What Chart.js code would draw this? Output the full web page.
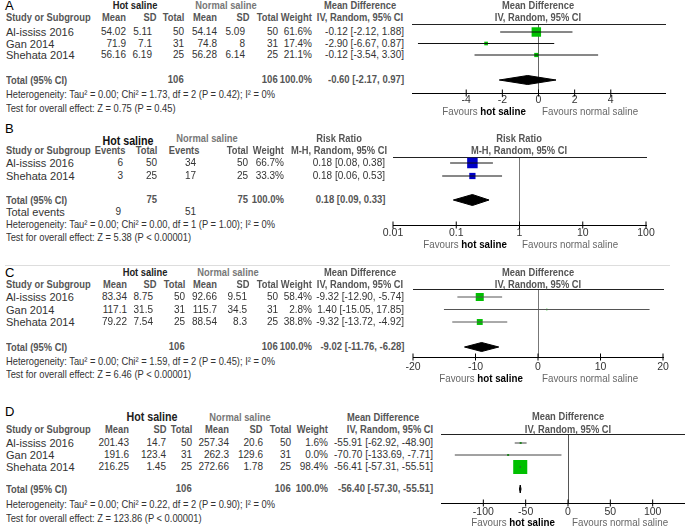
<!DOCTYPE html>
<html><head><meta charset="utf-8">
<script src="https://cdn.jsdelivr.net/npm/chart.js@4/dist/chart.umd.min.js"></script>
<style>
html,body{margin:0;padding:0;background:#fff;overflow:hidden;width:685px;height:527px;}
#root{position:relative;width:685px;height:527px;overflow:hidden;font-family:"Liberation Sans",Arial,sans-serif;}
.t{position:absolute;white-space:nowrap;font-size:10.5px;line-height:12px;color:#333;}
.b{font-weight:bold;color:#555;}
.hot{font-weight:bold;color:#222;}
.nor{font-weight:bold;color:#777;}
.let{font-size:13px;color:#000;}
.nm{font-size:11px;}
.num{font-size:10px;}
.fav{color:#666;}
.favb{color:#000;font-weight:bold;}
canvas{position:absolute;}
.hl{position:absolute;height:1px;background:#ddd;}
</style></head><body><div id="root"></div>
<script>
// ---------------- DATA ----------------
const studies3 = ['Al-ississ 2016', 'Gan 2014', 'Shehata 2014'];
const studies2 = ['Al-ississ 2016', 'Shehata 2014'];

// Panel A
const aHotMean = ['54.02', '71.9', '56.16'];
const aHotSD = ['5.11', '7.1', '6.19'];
const aHotN = ['50', '31', '25'];
const aNorMean = ['54.14', '74.8', '56.28'];
const aNorSD = ['5.09', '8', '6.14'];
const aNorN = ['50', '31', '25'];
const aWeight = [61.6, 17.4, 21.1];
const aMD = [-0.12, -2.90, -0.12];
const aLo = [-2.12, -6.67, -3.54];
const aHi = [1.88, 0.87, 3.30];
const aTotal = [-0.60, -2.17, 0.97];
const aTotN = ['106', '106'];
const aHet = 'Heterogeneity: Tau² = 0.00; Chi² = 1.73, df = 2 (P = 0.42); I² = 0%';
const aTest = 'Test for overall effect: Z = 0.75 (P = 0.45)';
const aTicks = [-4, -2, 0, 2, 4];

// Panel B
const bHotEv = ['6', '3'];
const bHotN = ['50', '25'];
const bNorEv = ['34', '17'];
const bNorN = ['50', '25'];
const bWeight = [66.7, 33.3];
const bRR = [0.18, 0.18];
const bLo = [0.08, 0.06];
const bHi = [0.38, 0.53];
const bTotal = [0.18, 0.09, 0.33];
const bTotN = ['75', '75'];
const bTotEv = ['9', '51'];
const bHet = 'Heterogeneity: Tau² = 0.00; Chi² = 0.00, df = 1 (P = 1.00); I² = 0%';
const bTest = 'Test for overall effect: Z = 5.38 (P < 0.00001)';
const bTicks = [0.01, 0.1, 1, 10, 100];

// Panel C
const cHotMean = ['83.34', '117.1', '79.22'];
const cHotSD = ['8.75', '31.5', '7.54'];
const cHotN = ['50', '31', '25'];
const cNorMean = ['92.66', '115.7', '88.54'];
const cNorSD = ['9.51', '34.5', '8.3'];
const cNorN = ['50', '31', '25'];
const cWeight = [58.4, 2.8, 38.8];
const cMD = [-9.32, 1.40, -9.32];
const cLo = [-12.90, -15.05, -13.72];
const cHi = [-5.74, 17.85, -4.92];
const cTotal = [-9.02, -11.76, -6.28];
const cTotN = ['106', '106'];
const cHet = 'Heterogeneity: Tau² = 0.00; Chi² = 1.59, df = 2 (P = 0.45); I² = 0%';
const cTest = 'Test for overall effect: Z = 6.46 (P < 0.00001)';
const cTicks = [-20, -10, 0, 10, 20];

// Panel D
const dHotMean = ['201.43', '191.6', '216.25'];
const dHotSD = ['14.7', '123.4', '1.45'];
const dHotN = ['50', '31', '25'];
const dNorMean = ['257.34', '262.3', '272.66'];
const dNorSD = ['20.6', '129.6', '1.78'];
const dNorN = ['50', '31', '25'];
const dWeight = [1.6, 0.0, 98.4];
const dMD = [-55.91, -70.70, -56.41];
const dLo = [-62.92, -133.69, -57.31];
const dHi = [-48.90, -7.71, -55.51];
const dTotal = [-56.40, -57.30, -55.51];
const dTotN = ['106', '106'];
const dHet = 'Heterogeneity: Tau² = 0.00; Chi² = 0.22, df = 2 (P = 0.90); I² = 0%';
const dTest = 'Test for overall effect: Z = 123.86 (P < 0.00001)';
const dTicks = [-100, -50, 0, 50, 100];

// ---------------- HELPERS ----------------
const root = document.getElementById('root');
const SX = 0.89;
function txt(x, y, s, a, cls, extra, sx) {
  const k = sx || SX;
  const d = document.createElement('div');
  d.className = 't' + (cls ? ' ' + cls : '');
  d.textContent = s;
  if (a === 'r') { d.style.right = (685 - x) + 'px'; d.style.transformOrigin = '100% 50%'; d.style.transform = 'scaleX(' + k + ')'; }
  else if (a === 'c') { d.style.left = x + 'px'; d.style.transformOrigin = '0 50%'; d.style.transform = 'scaleX(' + k + ') translateX(-50%)'; }
  else { d.style.left = x + 'px'; d.style.transformOrigin = '0 50%'; d.style.transform = 'scaleX(' + k + ')'; }
  d.style.top = (y - 6) + 'px';
  if (extra) Object.assign(d.style, extra);
  root.appendChild(d);
  return d;
}
const name = (x, y, s) => txt(x, y, s, 'l', 'nm', null, 1);
const num = (x, y, s, bold) => txt(x, y, s, 'r', 'num' + (bold ? ' b' : ''), null, bold ? 0.95 : 1);
const fmt2 = v => v.toFixed(2);
const fmtCI = (m, l, h) => fmt2(m) + ' [' + fmt2(l) + ', ' + fmt2(h) + ']';
const fmtW = w => w.toFixed(1) + '%';

function forest(L, D) {
  const cv = document.createElement('canvas');
  cv.width = L.cW; cv.height = L.cH;
  cv.style.left = L.cLeft + 'px'; cv.style.top = L.cTop + 'px';
  root.appendChild(cv);
  const tIdx = (L.totalY - L.row0) / L.rowH;
  const dh = L.dH / L.rowH;
  const yMin = (L.top - L.row0) / L.rowH, yMax = (L.axis - L.row0) / L.rowH;
  const ds = [];
  D.est.forEach((m, i) => {
    ds.push({ data: [{ x: D.lo[i], y: i }, { x: D.hi[i], y: i }], borderColor: L.ciColor, borderWidth: 1, pointRadius: 0, fill: false });
  });
  ds.push({ data: D.est.map((m, i) => ({ x: m, y: i })), showLine: false, pointStyle: 'rect',
    pointRadius: D.w.map(w => Math.max(L.minSide, L.k * Math.pow(w, 0.75)) / Math.SQRT2),
    pointBackgroundColor: L.sq, pointBorderWidth: 0, pointBorderColor: L.sq });
  const T = D.tot;
  ds.push({ data: [{ x: T[1], y: tIdx }, { x: T[0], y: tIdx - dh }, { x: T[2], y: tIdx }, { x: T[0], y: tIdx + dh }, { x: T[1], y: tIdx }],
    borderColor: '#000', borderWidth: 1, backgroundColor: '#000', fill: 'shape', pointRadius: 0 });
  // tick marks crossing the axis line, placed at the tick values through the scales
  ds.push({ data: D.ticks.map(v => ({ x: v, y: yMax })), showLine: false, pointStyle: 'line', rotation: 90,
    pointRadius: 3.5, pointBorderColor: '#000', pointBorderWidth: 1, clip: false });
  const tickFont = { family: 'Liberation Sans', size: 10.5 };
  new Chart(cv, {
    type: 'line',
    data: { datasets: ds },
    options: {
      responsive: false, animation: false, events: [],
      layout: { padding: { left: L.plotL - L.cLeft, right: L.cLeft + L.cW - L.plotR, top: L.top - L.cTop, bottom: L.cTop + L.cH - L.axis - 16 } },
      plugins: { legend: { display: false }, tooltip: { enabled: false } },
      scales: {
        x: { type: L.type, position: 'bottom', min: L.min, max: L.max,
          afterBuildTicks: s => { s.ticks = D.ticks.map(v => ({ value: v })); },
          afterFit: s => { s.height = 16; },
          grid: { drawOnChartArea: false, drawTicks: false },
          border: { display: true, color: '#000', width: 1 },
          ticks: { autoSkip: false, maxRotation: 0, minRotation: 0, padding: L.lblPad, color: '#333', font: tickFont, callback: v => String(v) } },
        x2: { type: L.type, position: 'top', min: L.min, max: L.max,
          afterBuildTicks: s => { s.ticks = [{ value: L.ref }]; },
          afterFit: s => { s.height = 0; },
          grid: { drawOnChartArea: true, drawTicks: false, color: L.refColor, lineWidth: 1 },
          border: { display: true, color: '#222', width: 1 },
          ticks: { display: false } },
        y: { type: 'linear', display: false, reverse: true, min: yMin, max: yMax }
      }
    }
  });
  const xc = L.refPx;
  txt(xc, L.grpY, L.title, 'c', 'b');
  txt(xc, L.hdrY, L.sub, 'c', 'b');
  const f = document.createElement('div');
  f.className = 't';
  f.style.right = (685 - (xc - L.favGapL)) + 'px';
  f.style.top = (L.favY - 6) + 'px';
  f.style.transformOrigin = '100% 50%';
  f.style.transform = 'scaleX(0.93)';
  f.innerHTML = '<span class="fav">Favours </span><span class="favb">hot saline</span>';
  root.appendChild(f);
  txt(xc + L.favGapR, L.favY, 'Favours normal saline', 'l', 'fav', null, 0.93);
}

function contTable(T, S) {
  txt(5, T.letterY, T.letter, 'l', 'let', null, 1);
  txt(T.hotC, T.grpY, 'Hot saline', 'c', 'hot', T.hotSize ? { fontSize: T.hotSize } : null);
  txt(T.norC, T.grpY, 'Normal saline', 'c', 'nor');
  txt(T.mdC, T.grpY, 'Mean Difference', 'c', 'b');
  txt(6, T.hdrY, 'Study or Subgroup', 'l', 'b');
  ['Mean', 'SD', 'Total', 'Mean', 'SD', 'Total', 'Weight'].forEach((h, i) => txt(T.hdrX[i], T.hdrY, h, 'r', 'b'));
  txt(T.ivC, T.hdrY, 'IV, Random, 95% CI', 'c', 'b');
  S.names.forEach((n, i) => {
    const y = T.row0 + i * T.rowH;
    name(6, y, n);
    const vals = [S.hm[i], S.hs[i], S.hn[i], S.nm[i], S.ns[i], S.nn[i], fmtW(S.w[i])];
    vals.forEach((v, j) => num(T.colX[j], y, v));
    num(T.ciR, y, fmtCI(S.est[i], S.lo[i], S.hi[i]));
  });
  txt(6, T.totalY, 'Total (95% CI)', 'l', 'b');
  num(T.colX[2], T.totalY, S.totN[0], true);
  num(T.colX[5], T.totalY, S.totN[1], true);
  num(T.colX[6], T.totalY, '100.0%', true);
  num(T.ciR, T.totalY, fmtCI(S.tot[0], S.tot[1], S.tot[2]), true);
  txt(6, T.hetY, S.het, 'l');
  txt(6, T.testY, S.test, 'l');
}

// ---------------- PANEL A ----------------
contTable({ letter: 'A', letterY: 6, grpY: 5, hdrY: 17, hotC: 135, norC: 226, mdC: 360, ivC: 360, ciR: 404,
  hdrX: [126, 157, 184, 217, 250, 278, 312], colX: [126, 152, 184, 217, 245, 278, 312],
  row0: 32, rowH: 11.5, totalY: 80, hetY: 94, testY: 108 },
  { names: studies3, hm: aHotMean, hs: aHotSD, hn: aHotN, nm: aNorMean, ns: aNorSD, nn: aNorN, w: aWeight,
    est: aMD, lo: aLo, hi: aHi, tot: aTotal, totN: aTotN, het: aHet, test: aTest });
forest({ cLeft: 370, cTop: 0, cW: 315, cH: 120, plotL: 412, plotR: 665, top: 24, axis: 93, row0: 32, rowH: 11.5, totalY: 80,
  type: 'linear', min: -7, max: 7, ref: 0, refPx: 538, dH: 4.5, k: 0.43, minSide: 2, sq: '#00c000', ciColor: '#111', refColor: '#666',
  lblPad: 1, title: 'Mean Difference', sub: 'IV, Random, 95% CI', grpY: 5, hdrY: 17, favY: 111, favGapL: 12, favGapR: 4 },
  { est: aMD, lo: aLo, hi: aHi, w: aWeight, tot: aTotal, ticks: aTicks });

// ---------------- PANEL B ----------------
(function () {
  txt(5, 129, 'B', 'l', 'let', null, 1);
  txt(128, 141, 'Hot saline', 'c', 'hot', { fontSize: '12px', color: '#111' });
  txt(207, 138, 'Normal saline', 'c', 'nor');
  txt(339, 138, 'Risk Ratio', 'c', 'b');
  txt(6, 150, 'Study or Subgroup', 'l', 'b');
  const hx = [125, 157, 199, 248, 284];
  ['Events', 'Total', 'Events', 'Total', 'Weight'].forEach((h, i) => txt(hx[i], 150, h, 'r', 'b'));
  txt(339, 150, 'M-H, Random, 95% CI', 'c', 'b');
  const cx = [123, 157, 196, 248, 284];
  studies2.forEach((n, i) => {
    const y = 163 + i * 13;
    name(6, y, n);
    [bHotEv[i], bHotN[i], bNorEv[i], bNorN[i], fmtW(bWeight[i])].forEach((v, j) => num(cx[j], y, v));
    num(385, y, fmtCI(bRR[i], bLo[i], bHi[i]));
  });
  txt(6, 200, 'Total (95% CI)', 'l', 'b');
  num(cx[1], 200, bTotN[0], true);
  num(cx[3], 200, bTotN[1], true);
  num(cx[4], 200, '100.0%', true);
  num(385, 200, fmtCI(bTotal[0], bTotal[1], bTotal[2]), true);
  name(6, 212, 'Total events');
  num(121, 212, bTotEv[0]);
  num(196, 212, bTotEv[1]);
  txt(6, 224, bHet, 'l');
  txt(6, 237, bTest, 'l');
})();
forest({ cLeft: 360, cTop: 140, cW: 325, cH: 110, plotL: 393, plotR: 646, top: 157, axis: 225, row0: 163, rowH: 13, totalY: 200,
  type: 'logarithmic', min: 0.01, max: 100, ref: 1, refPx: 519, dH: 5.5, k: 0.45, minSide: 2, sq: '#0000c8', ciColor: '#111', refColor: '#777',
  lblPad: 2, title: 'Risk Ratio', sub: 'M-H, Random, 95% CI', grpY: 138, hdrY: 150, favY: 244, favGapL: 12, favGapR: 3 },
  { est: bRR, lo: bLo, hi: bHi, w: bWeight, tot: bTotal, ticks: bTicks });

// ---------------- PANEL C ----------------
(function () {
  const d = document.createElement('div');
  d.className = 'hl'; d.style.left = '5px'; d.style.width = '665px'; d.style.top = '265px';
  root.appendChild(d);
})();
contTable({ letter: 'C', letterY: 273, grpY: 272, hdrY: 284, hotC: 145, norC: 228, mdC: 360, ivC: 360, ciR: 404,
  hdrX: [127, 157, 185, 217, 250, 278, 312], colX: [127, 153, 185, 217, 247, 278, 312],
  row0: 297, rowH: 12.5, totalY: 347, hetY: 361, testY: 374 },
  { names: studies3, hm: cHotMean, hs: cHotSD, hn: cHotN, nm: cNorMean, ns: cNorSD, nn: cNorN, w: cWeight,
    est: cMD, lo: cLo, hi: cHi, tot: cTotal, totN: cTotN, het: cHet, test: cTest });
forest({ cLeft: 370, cTop: 270, cW: 315, cH: 115, plotL: 413, plotR: 663, top: 289, axis: 357, row0: 297, rowH: 12.5, totalY: 347,
  type: 'linear', min: -20, max: 20, ref: 0, refPx: 538, dH: 4.5, k: 0.38, minSide: 1.5, sq: '#00c000', ciColor: '#555', refColor: '#777',
  lblPad: 4, title: 'Mean Difference', sub: 'IV, Random, 95% CI', grpY: 272, hdrY: 284, favY: 378, favGapL: 15, favGapR: 4 },
  { est: cMD, lo: cLo, hi: cHi, w: cWeight, tot: cTotal, ticks: cTicks });

// ---------------- PANEL D ----------------
contTable({ letter: 'D', letterY: 412, grpY: 417, hdrY: 429, hotC: 152, norC: 240, mdC: 383, ivC: 390, ciR: 433,
  hotSize: '12px',
  hdrX: [129, 167, 192, 229, 263, 291, 328], colX: [129, 166, 192, 229, 263, 291, 328],
  row0: 443, rowH: 12, totalY: 489, hetY: 504, testY: 518 },
  { names: studies3, hm: dHotMean, hs: dHotSD, hn: dHotN, nm: dNorMean, ns: dNorSD, nn: dNorN, w: dWeight,
    est: dMD, lo: dLo, hi: dHi, tot: dTotal, totN: dTotN, het: dHet, test: dTest });
forest({ cLeft: 400, cTop: 410, cW: 330, cH: 117, plotL: 441, plotR: 695, top: 434, axis: 503, row0: 443, rowH: 12, totalY: 489,
  type: 'linear', min: -150, max: 150, ref: 0, refPx: 568, dH: 4, k: 0.45, minSide: 2, sq: '#00c000', ciColor: '#444', refColor: '#555',
  lblPad: 3, title: 'Mean Difference', sub: 'IV, Random, 95% CI', grpY: 416, hdrY: 429, favY: 522, favGapL: 13, favGapR: 4 },
  { est: dMD, lo: dLo, hi: dHi, w: dWeight, tot: dTotal, ticks: dTicks });
</script>
</body></html>
